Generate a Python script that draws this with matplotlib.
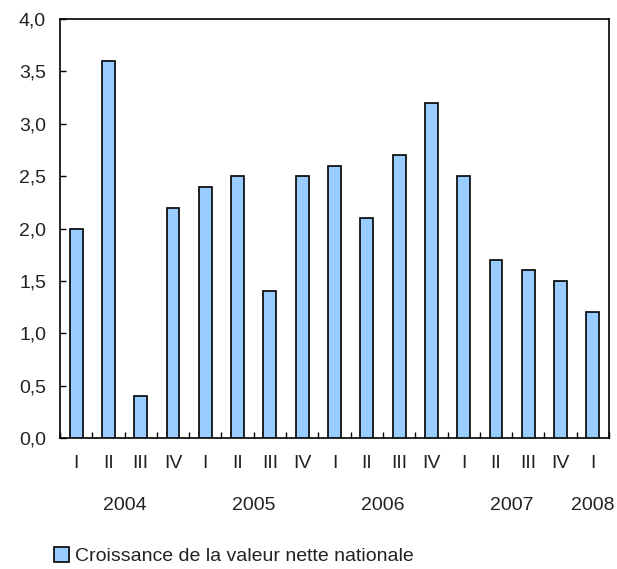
import matplotlib
matplotlib.use("Agg")
import matplotlib.pyplot as plt
from matplotlib.patches import Patch
import numpy as np

plt.rcParams['font.family'] = ['Liberation Sans', 'DejaVu Sans']

quarters = ["I", "II", "III", "IV", "I", "II", "III", "IV", "I", "II", "III", "IV",
            "I", "II", "III", "IV", "I"]
values = [2.0, 3.6, 0.4, 2.2, 2.4, 2.5, 1.4, 2.5, 2.6, 2.1, 2.7, 3.2,
          2.5, 1.7, 1.6, 1.5, 1.2]
years = ["2004", "2005", "2006", "2007", "2008"]
year_pos = [1.5, 5.5, 9.5, 13.5, 16]
series_name = "Croissance de la valeur nette nationale"
yticks = [0.0, 0.5, 1.0, 1.5, 2.0, 2.5, 3.0, 3.5, 4.0]

fig = plt.figure(figsize=(6.17, 5.69), dpi=100)
ax = fig.add_axes([60/617, 1-438/569, (609-60)/617, (438-19)/569])

x = np.arange(len(values))
bar_color = "#99CCFF"
ax.bar(x, values, width=0.4, color=bar_color, edgecolor="black", linewidth=1.2, zorder=3)

ax.set_xlim(-0.5, len(values) - 0.5)
ax.set_ylim(0, 4.0)

ax.set_yticks(yticks)
ax.set_yticklabels([f"{v:.1f}".replace(".", ",") for v in yticks], fontsize=14, color="#222222")
ax.tick_params(axis="y", direction="in", length=4, width=1, pad=10)

ax.set_xticks(x)
ax.set_xticklabels(quarters, fontsize=14, color="#222222")
ax.tick_params(axis="x", which="major", length=0, pad=12)
ax.set_xticks(np.arange(len(values) + 1) - 0.5, minor=True)
ax.tick_params(axis="x", which="minor", direction="in", length=4, width=1)

for s in ax.spines.values():
    s.set_linewidth(1.2)
    s.set_color("black")

trans = ax.get_xaxis_transform()
for yr, pos in zip(years, year_pos):
    ax.text(pos, -0.16, yr, transform=trans, ha="center", va="center",
            fontsize=14, color="#222222")

handle = Patch(facecolor=bar_color, edgecolor="black", linewidth=1.2)
fig.legend([handle], [series_name], loc="center left",
           bbox_to_anchor=(0.065, 1 - 556/569), frameon=False, fontsize=14,
           handlelength=0.8, handleheight=0.8, handletextpad=0.3,
           borderpad=0.2, labelcolor="#222222")

fig.savefig("out.png", dpi=100)
